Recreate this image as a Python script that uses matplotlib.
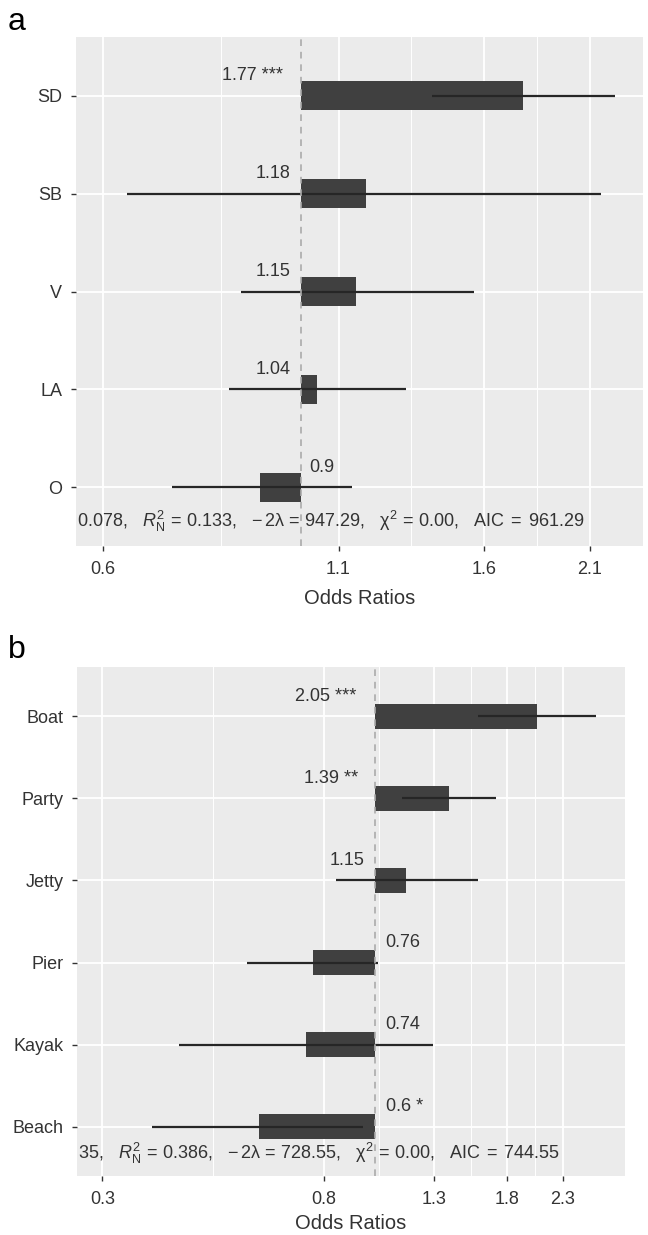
import numpy as np
import matplotlib
matplotlib.use("Agg")
import matplotlib.pyplot as plt
from matplotlib.transforms import ScaledTranslation, blended_transform_factory

plt.rcParams['font.family'] = ['Liberation Sans', 'DejaVu Sans']
plt.rcParams['mathtext.fontset'] = 'custom'
plt.rcParams['mathtext.rm'] = 'Liberation Sans'
plt.rcParams['mathtext.it'] = 'Liberation Sans:italic'
plt.rcParams['mathtext.bf'] = 'Liberation Sans:bold'

# ---------------- data ----------------
labels_a = ['SD', 'SB', 'V', 'LA', 'O']
or_a = [1.77, 1.18, 1.15, 1.04, 0.90]
lo_a = [1.40, 0.638, 0.855, 0.83, 0.716]
hi_a = [2.24, 2.16, 1.56, 1.31, 1.14]
text_a = ['1.77 ***', '1.18', '1.15', '1.04', '0.9']
ticks_a = [0.6, 1.1, 1.6, 2.1]
stats_a = (r"0.078,   $R^{2}_{\mathrm{N}}\,=\,0.133$,   $-\,2\mathrm{\lambda}\,=\,947.29$,   "
           r"$\mathrm{\chi}^{2}\,=\,0.00$,   AIC$\;=\;$961.29")

labels_b = ['Boat', 'Party', 'Jetty', 'Pier', 'Kayak', 'Beach']
or_b = [2.05, 1.39, 1.15, 0.76, 0.74, 0.60]
lo_b = [1.58, 1.13, 0.844, 0.569, 0.42, 0.374]
hi_b = [2.67, 1.71, 1.58, 1.016, 1.296, 0.95]
text_b = ['2.05 ***', '1.39 **', '1.15', '0.76', '0.74', '0.6 *']
ticks_b = [0.3, 0.8, 1.3, 1.8, 2.3]
stats_b = (r"35,   $R^{2}_{\mathrm{N}}\,=\,0.386$,   $-\,2\mathrm{\lambda}\,=\,728.55$,   "
           r"$\mathrm{\chi}^{2}\,=\,0.00$,   AIC$\;=\;$744.55")

W, H = 648, 1235
DPI = 100
fig = plt.figure(figsize=(W / DPI, H / DPI), dpi=DPI)

PANEL_BG = '#EBEBEB'
BAR_C = '#404040'
LINE_C = '#262626'
TXT_C = '#333333'


def px_axes(left, top, right, bottom):
    return fig.add_axes([left / W, 1 - bottom / H, (right - left) / W, (bottom - top) / H])


def draw_panel(ax, labels, ors, los, his, texts, ticks, xlim, stats, stats_y, xlabelpad):
    n = len(labels)
    y = np.arange(1, n + 1)
    ax.set_facecolor(PANEL_BG)
    ax.set_xscale('log')
    ax.set_xlim(*xlim)
    ax.set_ylim(n + 0.6, 0.4)
    for s in ax.spines.values():
        s.set_visible(False)
    # grid
    minors = [np.sqrt(a * b) for a, b in zip(ticks[:-1], ticks[1:])]
    for m in minors:
        ax.axvline(m, color='white', lw=0.7, zorder=0.5)
    for t in ticks:
        ax.axvline(t, color='white', lw=1.3, zorder=0.6)
    for yy in y:
        ax.axhline(yy, color='white', lw=1.3, zorder=0.6)
    # bars
    lefts = [min(1.0, o) for o in ors]
    widths = [abs(o - 1.0) for o in ors]
    ax.barh(y, widths, left=lefts, height=0.3, color=BAR_C, zorder=2)
    ax.hlines(y, los, his, color=LINE_C, lw=1.6, zorder=3)
    ax.axvline(1.0, color='#ABABAB', lw=1.2, ls=(0, (4, 3.5)), zorder=4)
    # ticks
    ax.set_xticks(ticks)
    ax.set_xticklabels([str(t) for t in ticks])
    ax.xaxis.set_minor_locator(matplotlib.ticker.NullLocator())
    ax.set_yticks(y)
    ax.set_yticklabels(labels)
    ax.tick_params(axis='both', length=3.8, width=1.0, color=TXT_C,
                   labelcolor=TXT_C, labelsize=13)
    ax.tick_params(axis='y', pad=6)
    ax.tick_params(axis='x', pad=7)
    ax.set_xlabel('Odds Ratios', fontsize=14.5, color=TXT_C, labelpad=xlabelpad)
    # value labels
    fig.canvas.draw()
    r = fig.canvas.get_renderer()
    for yy, o, t in zip(y, ors, texts):
        if o >= 1:
            txt = ax.text(1.0, yy, t, ha='right', va='center', fontsize=13,
                          color=TXT_C, zorder=5)
            w = txt.get_window_extent(r).width
            dx = -0.3 * w
        else:
            txt = ax.text(1.0, yy, t, ha='left', va='center', fontsize=13,
                          color=TXT_C, zorder=5)
            w = txt.get_window_extent(r).width
            dx = 0.3 * w
        txt.set_transform(ax.transData + ScaledTranslation(dx / DPI, 20 / DPI, fig.dpi_scale_trans))
    tr = blended_transform_factory(ax.transAxes, ax.transData)
    ax.text(0.002, stats_y, stats, transform=tr, ha='left', va='center',
            fontsize=13, color=TXT_C, clip_on=True, zorder=5)


ax_a = px_axes(76, 37, 643, 546)
draw_panel(ax_a, labels_a, or_a, lo_a, hi_a, text_a, ticks_a, (0.560, 2.407),
           stats_a, 5.35, 8)
ax_b = px_axes(77, 667, 625, 1176)
draw_panel(ax_b, labels_b, or_b, lo_b, hi_b, text_b, ticks_b, (0.268, 3.03),
           stats_b, 6.32, 4.5)

fig.text(8 / W, 1 - 22 / H, 'a', fontsize=23, color='black', ha='left', va='center')
fig.text(8 / W, 1 - 650 / H, 'b', fontsize=23, color='black', ha='left', va='center')

fig.savefig('out.png', dpi=DPI)
